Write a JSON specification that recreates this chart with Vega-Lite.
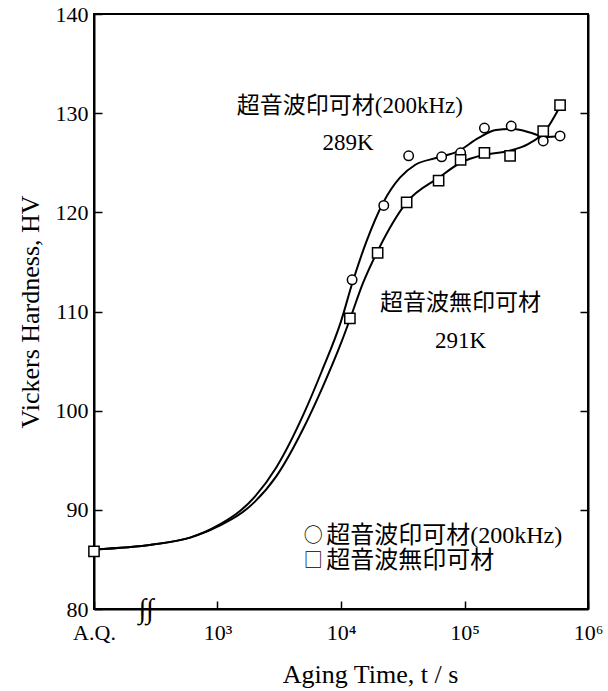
{
  "$schema": "https://vega.github.io/schema/vega-lite/v6.json",
  "width": 494,
  "height": 595,
  "autosize": "none",
  "padding": {"left": 94, "top": 14, "right": 20, "bottom": 82},
  "background": "white",
  "config": {
    "view": {"stroke": "black", "strokeWidth": 2},
    "font": "Liberation Serif",
    "axis": {"grid": false, "labelColor": "black", "titleColor": "black", "domainColor": "black", "tickColor": "black", "labelFont": "Liberation Serif", "titleFont": "Liberation Serif", "titleFontWeight": "normal"}
  },
  "datasets": {
    "curves": [
      {"series": "C", "t": 100, "hv": 86.0},
      {"series": "C", "t": 300, "hv": 86.5},
      {"series": "C", "t": 600, "hv": 87.2},
      {"series": "C", "t": 1000, "hv": 88.4},
      {"series": "C", "t": 2000, "hv": 91.3},
      {"series": "C", "t": 3000, "hv": 94.3},
      {"series": "C", "t": 5000, "hv": 99.7},
      {"series": "C", "t": 7000, "hv": 104.0},
      {"series": "C", "t": 10000, "hv": 109.0},
      {"series": "C", "t": 12300, "hv": 112.8},
      {"series": "C", "t": 16000, "hv": 117.0},
      {"series": "C", "t": 22000, "hv": 121.0},
      {"series": "C", "t": 30000, "hv": 123.5},
      {"series": "C", "t": 40000, "hv": 124.8},
      {"series": "C", "t": 60000, "hv": 125.5},
      {"series": "C", "t": 90000, "hv": 126.2},
      {"series": "C", "t": 130000, "hv": 127.5},
      {"series": "C", "t": 180000, "hv": 128.3},
      {"series": "C", "t": 250000, "hv": 128.4},
      {"series": "C", "t": 350000, "hv": 128.0},
      {"series": "C", "t": 450000, "hv": 127.6},
      {"series": "C", "t": 600000, "hv": 127.7},
      {"series": "S", "t": 100, "hv": 86.0},
      {"series": "S", "t": 300, "hv": 86.5},
      {"series": "S", "t": 600, "hv": 87.2},
      {"series": "S", "t": 1000, "hv": 88.3},
      {"series": "S", "t": 2000, "hv": 90.8},
      {"series": "S", "t": 3000, "hv": 93.4},
      {"series": "S", "t": 5000, "hv": 98.3},
      {"series": "S", "t": 7000, "hv": 102.2},
      {"series": "S", "t": 10000, "hv": 106.8},
      {"series": "S", "t": 11800, "hv": 109.2},
      {"series": "S", "t": 15000, "hv": 112.8},
      {"series": "S", "t": 20000, "hv": 116.2},
      {"series": "S", "t": 34000, "hv": 121.0},
      {"series": "S", "t": 62000, "hv": 123.5},
      {"series": "S", "t": 93000, "hv": 125.0},
      {"series": "S", "t": 145000, "hv": 125.8},
      {"series": "S", "t": 230000, "hv": 126.2},
      {"series": "S", "t": 330000, "hv": 126.9},
      {"series": "S", "t": 450000, "hv": 128.2},
      {"series": "S", "t": 600000, "hv": 130.8}
    ],
    "points": [
      {"series": "circle", "t": 12300, "hv": 113.2},
      {"series": "circle", "t": 22200, "hv": 120.7},
      {"series": "circle", "t": 35300, "hv": 125.7},
      {"series": "circle", "t": 65300, "hv": 125.6},
      {"series": "circle", "t": 93000, "hv": 126.0},
      {"series": "circle", "t": 145000, "hv": 128.5},
      {"series": "circle", "t": 239000, "hv": 128.7},
      {"series": "circle", "t": 434000, "hv": 127.2},
      {"series": "circle", "t": 594000, "hv": 127.7},
      {"series": "square", "t": 100, "hv": 85.8},
      {"series": "square", "t": 11800, "hv": 109.3},
      {"series": "square", "t": 19800, "hv": 115.9},
      {"series": "square", "t": 34000, "hv": 121.0},
      {"series": "square", "t": 61700, "hv": 123.2},
      {"series": "square", "t": 93000, "hv": 125.3},
      {"series": "square", "t": 145000, "hv": 126.0},
      {"series": "square", "t": 234000, "hv": 125.7},
      {"series": "square", "t": 434000, "hv": 128.2},
      {"series": "square", "t": 594000, "hv": 130.8}
    ],
    "labels": [
      {"text": "超音波印可材(200kHz)", "t": 11800, "hv": 130.7, "kind": "note"},
      {"text": "289K", "t": 11400, "hv": 127.0, "kind": "note"},
      {"text": "超音波無印可材", "t": 93000, "hv": 110.9, "kind": "note"},
      {"text": "291K", "t": 93000, "hv": 107.0, "kind": "note"},
      {"text": "○", "t": 5000, "hv": 87.4, "kind": "symbol"},
      {"text": "□", "t": 5000, "hv": 84.8, "kind": "symbol"},
      {"text": "超音波印可材(200kHz)", "t": 7600, "hv": 87.4, "kind": "legend"},
      {"text": "超音波無印可材", "t": 7600, "hv": 84.8, "kind": "legend"}
    ],
    "brk": [{"t": 264, "hv": 80}]
  },
  "layer": [
    {
      "data": {"name": "curves"},
      "mark": {"type": "line", "interpolate": "monotone", "color": "black", "strokeWidth": 2},
      "encoding": {
        "x": {"field": "t", "type": "quantitative", "scale": {"type": "log", "domain": [100, 1000000]},
          "axis": {"orient": "bottom", "values": [100, 1000, 10000, 100000, 1000000], "labelExpr": "datum.value == 100 ? 'A.Q.' : datum.value == 1000 ? '10³' : datum.value == 10000 ? '10⁴' : datum.value == 100000 ? '10⁵' : '10⁶'",
            "title": "Aging Time, t / s", "titleFontSize": 26, "labelFontSize": 22, "tickSize": -8, "tickWidth": 1.5, "labelPadding": 21, "domainWidth": 2, "titlePadding": 18, "titleX": 276, "titleAlign": "center", "labelFlush": false}},
        "y": {"field": "hv", "type": "quantitative", "scale": {"domain": [80, 140]},
          "axis": {"orient": "left", "values": [80, 90, 100, 110, 120, 130, 140], "title": "Vickers Hardness, HV", "titleFontSize": 26, "labelFontSize": 22, "tickSize": -8, "tickWidth": 1.5, "labelPadding": 14, "domainWidth": 2, "titlePadding": 12}},
        "detail": {"field": "series"}
      }
    },
    {
      "data": {"name": "points"},
      "mark": {"type": "point", "filled": true, "fill": "white", "stroke": "black", "strokeWidth": 1.5, "opacity": 1},
      "encoding": {
        "x": {"field": "t", "type": "quantitative", "scale": {"type": "log", "domain": [100, 1000000]}, "axis": null},
        "y": {"field": "hv", "type": "quantitative", "scale": {"domain": [80, 140]},
          "axis": {"orient": "right", "values": [90, 100, 110, 120, 130], "labels": false, "title": null, "tickSize": -8, "tickWidth": 1.5, "domainWidth": 2}},
        "shape": {"field": "series", "type": "nominal", "scale": {"domain": ["circle", "square"], "range": ["circle", "square"]}, "legend": null},
        "size": {"field": "series", "type": "nominal", "scale": {"domain": ["circle", "square"], "range": [90, 105]}, "legend": null}
      }
    },
    {
      "data": {"name": "labels"},
      "transform": [{"filter": "datum.kind == 'note'"}],
      "mark": {"type": "text", "font": "Liberation Serif, Noto Sans CJK JP", "fontSize": 23, "align": "center", "baseline": "middle", "color": "black"},
      "encoding": {
        "x": {"field": "t", "type": "quantitative", "scale": {"type": "log", "domain": [100, 1000000]}, "axis": null},
        "y": {"field": "hv", "type": "quantitative", "scale": {"domain": [80, 140]}, "axis": null},
        "text": {"field": "text"}
      }
    },
    {
      "data": {"name": "labels"},
      "transform": [{"filter": "datum.kind == 'symbol'"}],
      "mark": {"type": "text", "font": "Noto Sans CJK JP", "fontSize": 19, "align": "left", "baseline": "middle", "color": "black"},
      "encoding": {
        "x": {"field": "t", "type": "quantitative", "scale": {"type": "log", "domain": [100, 1000000]}, "axis": null},
        "y": {"field": "hv", "type": "quantitative", "scale": {"domain": [80, 140]}, "axis": null},
        "text": {"field": "text"}
      }
    },
    {
      "data": {"name": "labels"},
      "transform": [{"filter": "datum.kind == 'legend'"}],
      "mark": {"type": "text", "font": "Liberation Serif, Noto Sans CJK JP", "fontSize": 24, "align": "left", "baseline": "middle", "color": "black"},
      "encoding": {
        "x": {"field": "t", "type": "quantitative", "scale": {"type": "log", "domain": [100, 1000000]}, "axis": null},
        "y": {"field": "hv", "type": "quantitative", "scale": {"domain": [80, 140]}, "axis": null},
        "text": {"field": "text"}
      }
    },
    {
      "data": {"name": "brk"},
      "mark": {"type": "text", "text": "∫∫", "font": "Liberation Serif", "fontSize": 28, "align": "center", "baseline": "middle", "color": "black", "dy": 1},
      "encoding": {
        "x": {"field": "t", "type": "quantitative", "scale": {"type": "log", "domain": [100, 1000000]}, "axis": null},
        "y": {"field": "hv", "type": "quantitative", "scale": {"domain": [80, 140]}, "axis": null}
      }
    }
  ],
  "resolve": {"axis": {"x": "independent", "y": "independent"}}
}
